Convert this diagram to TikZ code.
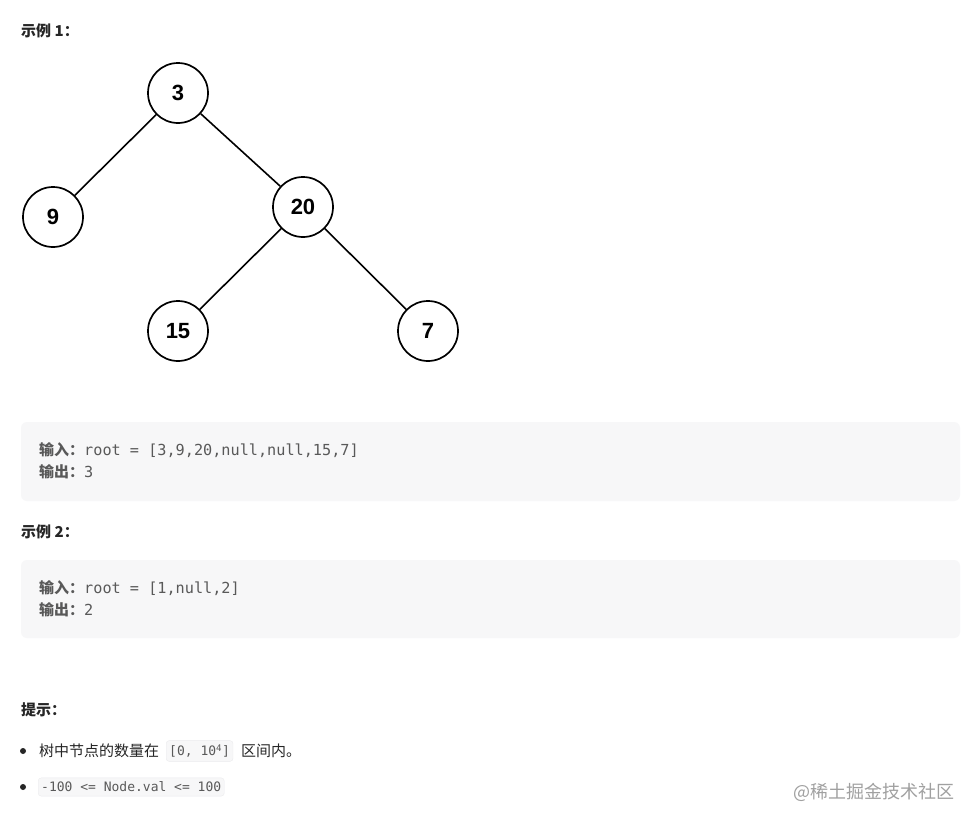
\documentclass[tikz,border=0pt]{standalone}
\usepackage{fontspec}
\setmainfont{Liberation Sans}
\newfontfamily\cjk{Noto Sans CJK SC}
\newfontfamily\monof{DejaVu Sans Mono}
\definecolor{codebg}{HTML}{F7F7F8}
\definecolor{codeline}{HTML}{EBEBED}
\definecolor{codetext}{HTML}{595959}
\definecolor{headtext}{HTML}{262626}
\definecolor{marktext}{HTML}{A0A0A0}
\newcommand{\labelcjk}[1]{{\cjk\bfseries\fontsize{15}{15}\selectfont #1}}
\tikzset{
  treenode/.style={circle, draw, line width=1.7pt, minimum size=60pt, inner sep=0pt,
    font=\bfseries\fontsize{22}{22}\selectfont},
  treeedge/.style={line width=1.6pt},
  heading/.style={anchor=west, inner sep=0pt, text=headtext,
    font=\cjk\bfseries\fontsize{15}{15}\selectfont},
  codeblock/.style={fill=codebg, rounded corners=6pt},
  codeline/.style={anchor=west, inner sep=0pt, text=codetext,
    font=\monof\fontsize{15.2}{15.2}\selectfont},
  bodytext/.style={anchor=west, inner sep=0pt, text=headtext,
    font=\cjk\fontsize{15}{15}\selectfont},
  inlinecode/.style={anchor=west, fill=codebg, draw=codeline, rounded corners=3pt,
    inner xsep=3pt, inner ysep=4pt, text=codetext, font=\monof\fontsize{13}{13}\selectfont}
}
\begin{document}
\begin{tikzpicture}[x=1pt, y=-1pt]
        \useasboundingbox[fill=white] (0,0) rectangle (978,825);

        % example 1
        \node[heading] at (21,31) (ex1) {示例 1：};

        \node[treenode] at (178,93) (n3) {3};
        \node[treenode] at (53,217) (n9) {9};
        \node[treenode] at (303,207) (n20) {20};
        \node[treenode] at (178,331) (n15) {15};
        \node[treenode] at (428,331) (n7) {7};

        \draw[treeedge] (n3) -- (n9);
        \draw[treeedge] (n3) -- (n20);
        \draw[treeedge] (n20) -- (n15);
        \draw[treeedge] (n20) -- (n7);

        \fill[codeblock] (21,422) rectangle (960,501);
        \node[codeline] at (39,450) (in1) {\labelcjk{输入：}root = [3,9,20,null,null,15,7]};
        \node[codeline] at (39,472) (out1) {\labelcjk{输出：}3};

        % example 2
        \node[heading] at (21,532) (ex2) {示例 2：};

        \fill[codeblock] (21,560) rectangle (960,638);
        \node[codeline] at (39,588) (in2) {\labelcjk{输入：}root = [1,null,2]};
        \node[codeline] at (39,610) (out2) {\labelcjk{输出：}2};

        % hints
        \node[heading] at (21,710) (hint) {提示：};

        \fill[headtext] (23,751) circle (3pt);
        \node[bodytext] at (39,751) (h1a) {树中节点的数量在};
        \node[inlinecode] at (166,751) (h1b) {[0, 10\textsuperscript{4}]};
        \node[bodytext] at (241,751) (h1c) {区间内。};

        \fill[headtext] (23,787) circle (3pt);
        \node[inlinecode] at (38,787) (h2) {-100 <= Node.val <= 100};

        \node[anchor=east, inner sep=0pt, text=marktext, font=\cjk\fontsize{18}{18}\selectfont]
          at (955,792) (mark) {@稀土掘金技术社区};
    \end{tikzpicture}
\end{document}
